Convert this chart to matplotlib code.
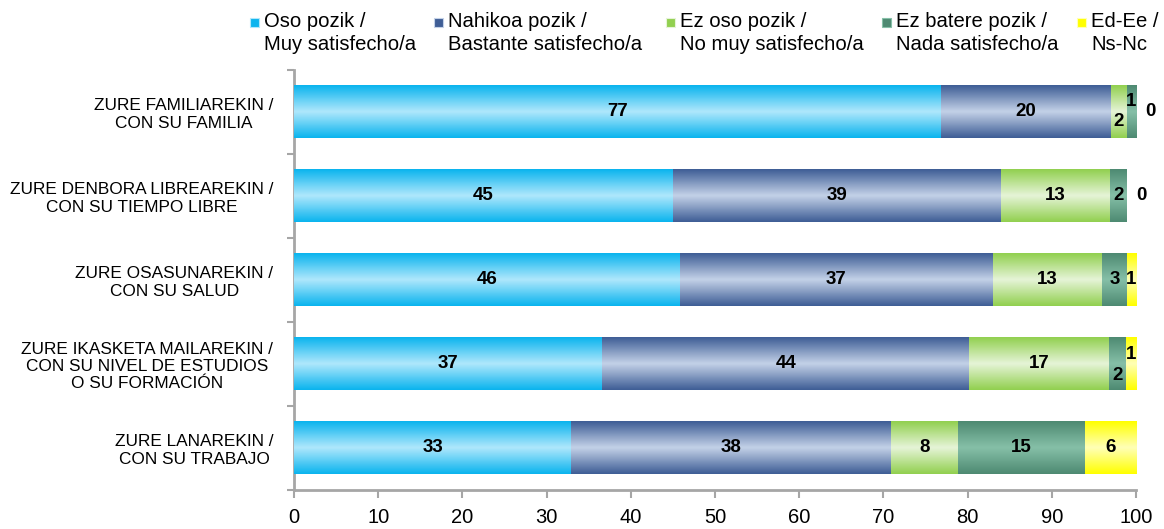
import numpy as np
import matplotlib; matplotlib.use('Agg')
from matplotlib import pyplot as plt
from matplotlib.colors import LinearSegmentedColormap
from matplotlib.patches import Rectangle

plt.rcParams['font.family'] = ['Liberation Sans', 'DejaVu Sans']

categories = ["ZURE FAMILIAREKIN /\nCON SU FAMILIA",
              "ZURE DENBORA LIBREAREKIN /\nCON SU TIEMPO LIBRE",
              "ZURE OSASUNAREKIN /\nCON SU SALUD",
              "ZURE IKASKETA MAILAREKIN /\nCON SU NIVEL DE ESTUDIOS\nO SU FORMACIÓN",
              "ZURE LANAREKIN /\nCON SU TRABAJO"]
series = ["Oso pozik /\nMuy satisfecho/a",
          "Nahikoa pozik /\nBastante satisfecho/a",
          "Ez oso pozik /\nNo muy satisfecho/a",
          "Ez batere pozik /\nNada satisfecho/a",
          "Ed-Ee /\nNs-Nc"]
oso = [76.8, 45.0, 45.8, 36.6, 32.9]
nahikoa = [20.2, 39.0, 37.2, 43.6, 38.0]
ez_oso = [1.9, 12.9, 13.0, 16.6, 8.0]
ez_batere = [1.1, 2.0, 2.9, 2.0, 15.0]
ed_ee = [0.0, 0.0, 1.1, 1.2, 6.1]
values = [oso, nahikoa, ez_oso, ez_batere, ed_ee]

# edge colour, centre colour of the gradient
edge_cols = ["#0BB4EE", "#3F5E96", "#92D050", "#4E8A72", "#FFFF00"]
mid_cols = ["#B0E8FC", "#C4D2E8", "#E6F4D8", "#86C0A8", "#FFFFB8"]

# vertical offset of some small labels (row, series) -> fraction of bar height
label_dy = {(0, 2): -0.18, (0, 3): 0.2, (3, 3): -0.22, (3, 4): 0.18}

fig = plt.figure(figsize=(11.64, 5.29), dpi=100)
ax = fig.add_axes([0.2526, 0.074, 0.7234, 0.794])

y = np.arange(len(categories))
h = 0.62
left = np.zeros(len(categories))
grad = np.linspace(0, 1, 64).reshape(-1, 1)
for s in range(len(series)):
    vals = np.array(values[s])
    bars = ax.barh(y, vals, left=left, height=h, color=edge_cols[s], zorder=2)
    cmap = LinearSegmentedColormap.from_list("g%d" % s, [edge_cols[s], mid_cols[s], edge_cols[s]])
    for i, bar in enumerate(bars):
        if vals[i] <= 0:
            continue
        x0, w = bar.get_x(), bar.get_width()
        y0, bh = bar.get_y(), bar.get_height()
        ax.imshow(grad, cmap=cmap, extent=(x0, x0 + w, y0, y0 + bh),
                  aspect='auto', interpolation='bicubic', zorder=3)
        lab = int(round(vals[i]))
        dy = label_dy.get((i, s), 0) * bh
        ax.text(x0 + w / 2, y[i] - dy, str(lab), ha='center', va='center',
                fontsize=13.5, fontweight='bold', zorder=4)
    left = left + vals

# zero-value labels to the right of the bar
for i in range(len(categories)):
    if ed_ee[i] == 0:
        ax.text(left[i] + 1.7, y[i], "0", ha='center', va='center',
                fontsize=13.5, fontweight='bold', zorder=4)

ax.set_xlim(0, 100)
ax.set_ylim(len(categories) - 0.5, -0.5)
ax.set_xticks(np.arange(0, 101, 10))
ax.tick_params(axis='x', labelsize=14.5, length=6, width=1.5, color='#A6A6A6', pad=7)
ax.set_yticks(np.arange(-0.5, len(categories), 1.0))
ax.set_yticklabels([])
ax.set_yticks(y, minor=True)
ax.set_yticklabels(categories, minor=True, fontsize=12.4, ha='right', multialignment='center')
ax.tick_params(axis='y', which='major', length=5, width=1.5, color='#A6A6A6')
ax.tick_params(axis='y', which='minor', length=0, pad=15)
for side in ['top', 'right']:
    ax.spines[side].set_visible(False)
for side in ['left', 'bottom']:
    ax.spines[side].set_color('#A6A6A6')
    ax.spines[side].set_linewidth(2)

# legend drawn by hand: marker beside first line of each two-line label
legend_x = [250, 434, 666, 882, 1077]
W, H = 1164, 529
for s in range(len(series)):
    fx = legend_x[s] / W
    fig.add_artist(Rectangle((fx, 1 - 27 / H), 9 / W, 9 / H, transform=fig.transFigure,
                             facecolor=edge_cols[s], edgecolor=mid_cols[s], lw=0.8))
    fig.text(fx + 14 / W, 1 - 12 / H, series[s], ha='left', va='top',
             fontsize=14.6, linespacing=1.25)

plt.savefig("out.png")
